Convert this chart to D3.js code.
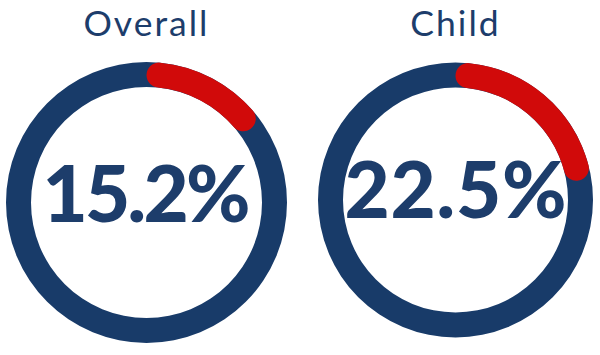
<!DOCTYPE html>
<html><head><meta charset="utf-8">
<script src="https://cdn.jsdelivr.net/npm/d3@7"></script>
<style>html,body{margin:0;padding:0;background:#fff;}svg{display:block;}</style>
</head><body>
<svg id="chart" width="600" height="355"></svg>
<script>
const categories = ["Overall", "Child"];
const values = [15.2, 22.5];
const valueLabels = ["15.2%", "22.5%"];

const navy = "#183b69", red = "#d10a0a", textColor = "#1d3d6b";
const layout = [
  {cx: 146.5, cy: 202.5, r: 140.5, titleY: 35.5, labelY: 222, labelW: 208},
  {cx: 455.5, cy: 200, r: 137.5, titleY: 35.5, labelY: 218, labelW: 222}
];
const thick = 25;

const svg = d3.select("#chart");
const angle = d3.scaleLinear().domain([0, 100]).range([0, 2 * Math.PI]);

categories.forEach((cat, i) => {
  const L = layout[i];
  const g = svg.append("g").attr("transform", `translate(${L.cx},${L.cy})`);
  const arc = d3.arc().innerRadius(L.r - thick).outerRadius(L.r);
  g.append("path").attr("d", arc({startAngle: 0, endAngle: 2 * Math.PI})).attr("fill", navy);
  g.append("path")
    .attr("d", d3.arc().innerRadius(L.r - thick).outerRadius(L.r).cornerRadius(thick / 2)
      ({startAngle: angle(0), endAngle: angle(values[i])}))
    .attr("fill", red);
  svg.append("text").attr("x", L.cx).attr("y", L.titleY)
    .attr("text-anchor", "middle").attr("fill", textColor)
    .style("font-family", "Lato, sans-serif").style("font-size", "35.5px").style("font-weight", 400)
    .style("letter-spacing", "2px")
    .text(cat);
  svg.append("text").attr("x", L.cx).attr("y", L.labelY)
    .attr("text-anchor", "middle").attr("fill", textColor)
    .attr("textLength", L.labelW).attr("lengthAdjust", "spacing")
    .style("font-family", "Lato, sans-serif").style("font-size", "78px").style("font-weight", 900)
    .text(valueLabels[i]);
});
</script>
</body></html>
